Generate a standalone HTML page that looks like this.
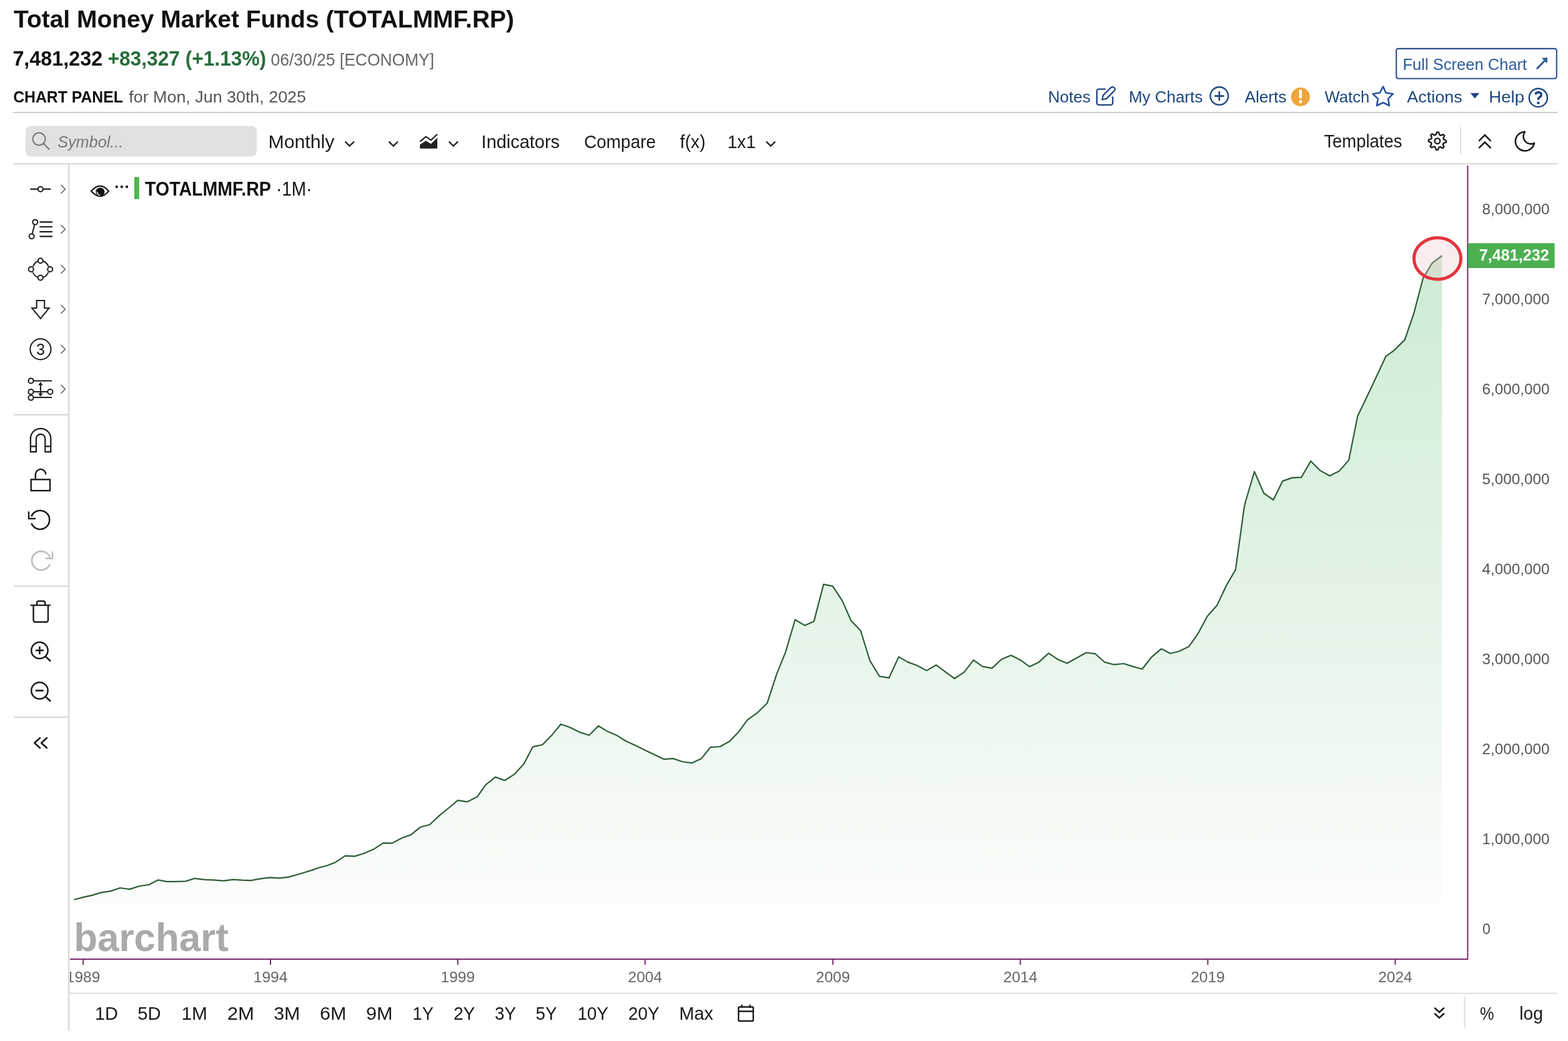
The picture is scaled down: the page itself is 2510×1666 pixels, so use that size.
<!DOCTYPE html>
<html><head><meta charset="utf-8"><title>Total Money Market Funds (TOTALMMF.RP)</title>
<style>html,body{margin:0;padding:0;background:#fff;overflow:hidden}svg{display:block}text{font-family:"Liberation Sans", Arial, sans-serif}</style>
</head><body>
<svg width="2510" height="1666" viewBox="0 0 2510 1666">
<rect width="2510" height="1666" fill="#fff"/>
<text x="22.0" y="43.5" font-size="39.2" font-weight="bold" fill="#111" textLength="801.0" lengthAdjust="spacingAndGlyphs">Total Money Market Funds (TOTALMMF.RP)</text>
<text x="20.4" y="105" font-size="32.8" font-weight="bold" fill="#111" textLength="143.8" lengthAdjust="spacingAndGlyphs">7,481,232</text>
<text x="172.5" y="105" font-size="32.8" font-weight="bold" fill="#296d3c" textLength="253.6" lengthAdjust="spacingAndGlyphs">+83,327 (+1.13%)</text>
<text x="433.6" y="105" font-size="27.2" fill="#666" textLength="261.5" lengthAdjust="spacingAndGlyphs">06/30/25 [ECONOMY]</text>
<text x="21.2" y="164.2" font-size="25.9" font-weight="bold" fill="#111" textLength="175.6" lengthAdjust="spacingAndGlyphs">CHART PANEL</text>
<text x="206.3" y="164.2" font-size="25.9" fill="#555" textLength="283.7" lengthAdjust="spacingAndGlyphs">for Mon, Jun 30th, 2025</text>
<rect x="2235.2" y="77.9" width="256.6" height="47.9" rx="3.2" fill="none" stroke="#2c4f8f" stroke-width="2.1"/>
<text x="2245.5" y="111.6" font-size="25.1" fill="#2d5c9c" textLength="198.7" lengthAdjust="spacingAndGlyphs">Full Screen Chart</text>
<path d="M2460.8 109.4 L2472 98" stroke="#2d5c9c" stroke-width="3" stroke-linecap="round"/>
<path d="M2468.6 93.2 L2476.7 92.8 L2476.3 100.6 Z" fill="#2d5c9c" stroke="#2d5c9c" stroke-width="1" stroke-linejoin="round"/>
<text x="1677.8" y="163.9" font-size="26.2" fill="#1d467f" textLength="68.1" lengthAdjust="spacingAndGlyphs">Notes</text>
<path d="M1768.9 142.7 H1759 a3.2 3.2 0 0 0 -3.2 3.2 V164.7 a3.2 3.2 0 0 0 3.2 3.2 H1778 a3.2 3.2 0 0 0 3.2 -3.2 V155.4" fill="none" stroke="#1d467f" stroke-width="2.3" stroke-linecap="round"/>
<path d="M1764.3 159.5 L1765.9 152.6 L1778.3 140.3 A3.7 3.7 0 0 1 1783.6 145.5 L1771.2 157.9 Z" fill="none" stroke="#1d467f" stroke-width="2.3" stroke-linejoin="round"/>
<text x="1807.0" y="163.9" font-size="26.2" fill="#1d467f" textLength="118.2" lengthAdjust="spacingAndGlyphs">My Charts</text>
<circle cx="1951.8" cy="153.6" r="14.3" fill="none" stroke="#1d467f" stroke-width="2.4"/>
<path d="M1951.8 146 V161.2 M1944.2 153.6 H1959.4" stroke="#1d467f" stroke-width="2.6"/>
<text x="1992.4" y="163.9" font-size="26.2" fill="#1d467f" textLength="67.1" lengthAdjust="spacingAndGlyphs">Alerts</text>
<circle cx="2081.8" cy="155" r="15" fill="#f0a43a"/>
<rect x="2079.6" y="143.5" width="4.4" height="14" rx="1" fill="#fff"/><rect x="2079.6" y="160.5" width="4.4" height="4.4" fill="#fff"/>
<text x="2120.5" y="163.9" font-size="26.2" fill="#1d467f" textLength="71.8" lengthAdjust="spacingAndGlyphs">Watch</text>
<polygon points="2214,138.5 2218.4,148.5 2229.9,150.2 2222,158.1 2224,169 2214,164.3 2203.9,169 2205.9,158.1 2197.6,150.2 2208.8,148.5" fill="none" stroke="#2553a0" stroke-width="2.6" stroke-linejoin="round"/>
<text x="2252.2" y="163.9" font-size="26.2" fill="#1d467f" textLength="88.7" lengthAdjust="spacingAndGlyphs">Actions</text>
<path d="M2353.7 149 H2368.1 L2360.9 157.6 Z" fill="#1d467f"/>
<text x="2383.2" y="163.9" font-size="26.2" fill="#1d467f" textLength="56.9" lengthAdjust="spacingAndGlyphs">Help</text>
<circle cx="2462.4" cy="156.4" r="14.6" fill="none" stroke="#1d467f" stroke-width="2.4"/>
<path d="M2458.3 151.3 C2458.3 148.6 2460.3 147.7 2462.7 147.7 C2465.5 147.7 2467.3 149.3 2467.3 151.8 C2467.3 154.6 2464.6 155.3 2463.2 156.8 C2462.5 157.6 2462.4 158.5 2462.4 159.8" fill="none" stroke="#1d467f" stroke-width="3.6"/>
<rect x="2460.4" y="162.8" width="4.1" height="3.8" fill="#1d467f"/>
<rect x="21" y="179" width="2472" height="2" fill="#cccccc"/>
<rect x="21" y="261.3" width="2472" height="1.7" fill="#d4d4d4"/>
<rect x="40.9" y="201.4" width="370.2" height="49.1" rx="8.5" fill="#e1e1e1"/>
<circle cx="62.5" cy="222.5" r="10" fill="none" stroke="#777" stroke-width="2"/>
<path d="M69.8 229.8 L78.5 238.8" stroke="#777" stroke-width="2.2" stroke-linecap="round"/>
<text x="92.2" y="236.1" font-size="26.6" font-style="italic" fill="#777" textLength="105.1" lengthAdjust="spacingAndGlyphs">Symbol...</text>
<text x="429.5" y="236.9" font-size="29.4" fill="#1a1a1a" textLength="105.8" lengthAdjust="spacingAndGlyphs">Monthly</text>
<path d="M552.4 226.7 L559.6 233.5 L566.8 226.7" fill="none" stroke="#222" stroke-width="2.4"/>
<path d="M622.5 226.7 L629.7 233.5 L636.9 226.7" fill="none" stroke="#222" stroke-width="2.4"/>
<path d="M672.2 226.7 L681.8 218.7 L689.8 224.4 L700 214.7" fill="none" stroke="#222" stroke-width="2.2"/>
<path d="M672.2 231.6 L681.8 225.3 L689.8 230.2 L700 220.4 V237.8 H672.2 Z" fill="#222"/>
<path d="M718.6 226.7 L725.8000000000001 233.5 L733.0 226.7" fill="none" stroke="#222" stroke-width="2.4"/>
<text x="770.6" y="236.8" font-size="29.4" fill="#1a1a1a" textLength="125.4" lengthAdjust="spacingAndGlyphs">Indicators</text>
<text x="934.9" y="236.8" font-size="29.4" fill="#1a1a1a" textLength="114.9" lengthAdjust="spacingAndGlyphs">Compare</text>
<text x="1088.6" y="236.8" font-size="29.4" fill="#1a1a1a" textLength="40.7" lengthAdjust="spacingAndGlyphs">f(x)</text>
<text x="1164.4" y="236.8" font-size="29.4" fill="#1a1a1a" textLength="45.4" lengthAdjust="spacingAndGlyphs">1x1</text>
<path d="M1226.6 226.7 L1233.8 233.5 L1241 226.7" fill="none" stroke="#222" stroke-width="2.4"/>
<text x="2119.4" y="236.4" font-size="29.4" fill="#1a1a1a" textLength="125.0" lengthAdjust="spacingAndGlyphs">Templates</text>
<polygon points="2300.2,211.5 2303.0,211.7 2304.4,215.9 2306.2,216.8 2310.4,215.2 2312.3,217.2 2310.3,221.3 2311.0,223.2 2315.1,225.0 2314.9,227.8 2310.7,229.2 2309.8,231.0 2311.4,235.2 2309.4,237.1 2305.3,235.1 2303.4,235.8 2301.6,239.9 2298.8,239.7 2297.4,235.5 2295.6,234.6 2291.4,236.2 2289.5,234.2 2291.5,230.1 2290.8,228.2 2286.7,226.4 2286.9,223.6 2291.1,222.2 2292.0,220.4 2290.4,216.2 2292.4,214.3 2296.5,216.3 2298.4,215.6" fill="none" stroke="#1a1a1a" stroke-width="2.4" stroke-linejoin="round"/>
<circle cx="2300.9" cy="225.7" r="4.3" fill="none" stroke="#1a1a1a" stroke-width="2.4"/>
<rect x="2337" y="203.4" width="2" height="44" fill="#dddddd"/>
<path d="M2368 225.2 L2376.9 216 L2385.8 225.2 M2368 236.4 L2376.9 227.5 L2385.8 236.4" fill="none" stroke="#1a1a1a" stroke-width="2.6" stroke-linecap="round"/>
<path d="M2441 211 A15.2 15.2 0 1 0 2456 229 A12 12 0 0 1 2441 211 Z" fill="none" stroke="#1a1a1a" stroke-width="2.6" stroke-linejoin="round"/>
<rect x="109.2" y="262" width="2" height="1388" fill="#d4d4d4"/>
<rect x="22" y="662.7" width="88" height="2" fill="#d4d4d4"/>
<rect x="22" y="937.2" width="88" height="2" fill="#d4d4d4"/>
<rect x="22" y="1146.7" width="88" height="2" fill="#d4d4d4"/>
<path d="M48.5 302.7 H60.8 M68.8 302.7 H81.2" stroke="#1a1a1a" stroke-width="2.2"/><circle cx="64.8" cy="302.7" r="4" fill="#fff" stroke="#1a1a1a" stroke-width="2"/>
<path d="M97.5 295.7 L104.3 302.7 L97.5 309.7" fill="none" stroke="#555" stroke-width="1.4"/>
<path d="M55.4 359.4 L51.6 374.2" stroke="#1a1a1a" stroke-width="2"/>
<circle cx="56.3" cy="355.4" r="4" fill="#fff" stroke="#1a1a1a" stroke-width="2"/><circle cx="50.7" cy="378.2" r="4" fill="#fff" stroke="#1a1a1a" stroke-width="2"/>
<path d="M63.4 355.4 H84 M63.4 363 H84 M63.4 370.8 H84 M63.4 378.4 H84" stroke="#1a1a1a" stroke-width="2.2"/>
<path d="M97.5 360 L104.3 367 L97.5 374" fill="none" stroke="#555" stroke-width="1.4"/>
<path d="M53 426.5 Q56 419 61 418 M68.6 418 Q75 419.5 77.5 426.5 M77.5 435.5 Q75 442 68.6 444 M61 444 Q55 442 52.5 435.5" fill="none" stroke="#1a1a1a" stroke-width="2"/>
<circle cx="64.8" cy="417.3" r="4" fill="#fff" stroke="#1a1a1a" stroke-width="2"/>
<circle cx="49.7" cy="431" r="4" fill="#fff" stroke="#1a1a1a" stroke-width="2"/>
<circle cx="80.2" cy="431" r="4" fill="#fff" stroke="#1a1a1a" stroke-width="2"/>
<circle cx="64.8" cy="444.5" r="4" fill="#fff" stroke="#1a1a1a" stroke-width="2"/>
<path d="M97.5 424 L104.3 431 L97.5 438" fill="none" stroke="#555" stroke-width="1.4"/>
<path d="M58.6 481 H71.2 V493 H78.6 L64.9 509.8 L51.1 493 H58.6 Z" fill="none" stroke="#1a1a1a" stroke-width="2" stroke-linejoin="miter"/>
<path d="M97.5 488 L104.3 495 L97.5 502" fill="none" stroke="#555" stroke-width="1.4"/>
<circle cx="64.9" cy="558.9" r="16.6" fill="none" stroke="#1a1a1a" stroke-width="2"/>
<text x="64.9" y="567.6" font-size="25" text-anchor="middle" fill="#1a1a1a">3</text>
<path d="M97.5 551.9 L104.3 558.9 L97.5 565.9" fill="none" stroke="#555" stroke-width="1.4"/>
<path d="M53.5 609.4 H82.9 M53.5 627 H76 M53.5 636 H82.9 M64.9 612 V634" stroke="#1a1a1a" stroke-width="2"/>
<path d="M61 616.5 L64.9 611.5 L68.8 616.5 Z M61 629.5 L64.9 634.5 L68.8 629.5 Z" fill="#1a1a1a"/>
<circle cx="49.5" cy="609.4" r="4" fill="#fff" stroke="#1a1a1a" stroke-width="2"/>
<circle cx="49.5" cy="627" r="4" fill="#fff" stroke="#1a1a1a" stroke-width="2"/>
<circle cx="49.5" cy="636.6" r="4" fill="#fff" stroke="#1a1a1a" stroke-width="2"/>
<circle cx="80.3" cy="627" r="4" fill="#fff" stroke="#1a1a1a" stroke-width="2"/>
<path d="M97.5 615.8 L104.3 622.8 L97.5 629.8" fill="none" stroke="#555" stroke-width="1.4"/>
<path d="M48.9 723.2 V702 A16.2 16.2 0 0 1 81.3 702 V723.2 H72.3 V702 A7.2 7.2 0 0 0 57.9 702 V723.2 Z M48.9 714.4 H57.9 M72.3 714.4 H81.3" fill="none" stroke="#1a1a1a" stroke-width="2.2"/>
<rect x="49.7" y="767.4" width="30.4" height="17.8" fill="none" stroke="#1a1a1a" stroke-width="2.4"/>
<path d="M56.8 767.4 V759 A8.2 8.2 0 0 1 73.2 759.5" fill="none" stroke="#1a1a1a" stroke-width="2.4"/>
<path d="M50.3 837.5 A15 15 0 1 0 50.3 826.5" fill="none" stroke="#1a1a1a" stroke-width="2.6"/>
<path d="M46 818.5 V830 H57" fill="none" stroke="#1a1a1a" stroke-width="2.4"/>
<path d="M80 892 A15 15 0 1 0 79.8 903" fill="none" stroke="#bdbdbd" stroke-width="2.6"/>
<path d="M84 882.5 V893.8 H72.5" fill="none" stroke="#bdbdbd" stroke-width="2.4"/>
<path d="M48.6 968.6 H81.1" stroke="#1a1a1a" stroke-width="2.4"/>
<path d="M58.9 968 V965 A3 3 0 0 1 61.9 962 H69.2 A3 3 0 0 1 72.2 965 V968" fill="none" stroke="#1a1a1a" stroke-width="2.4"/>
<path d="M53.5 969 V992.5 A3 3 0 0 0 56.5 995.5 H74 A3 3 0 0 0 77 992.5 V969" fill="none" stroke="#1a1a1a" stroke-width="2.4"/>
<circle cx="63.4" cy="1040.9" r="13.2" fill="none" stroke="#1a1a1a" stroke-width="2.5"/>
<path d="M73 1050.6000000000001 L80.3 1057.5" stroke="#1a1a1a" stroke-width="2.6" stroke-linecap="round"/>
<path d="M57 1040.9 H69.8 M63.4 1034.5 V1047.3000000000002" stroke="#1a1a1a" stroke-width="2.6"/>
<circle cx="63.4" cy="1105.2" r="13.2" fill="none" stroke="#1a1a1a" stroke-width="2.5"/>
<path d="M73 1114.9 L80.3 1121.8" stroke="#1a1a1a" stroke-width="2.6" stroke-linecap="round"/>
<path d="M57 1105.2 H69.8" stroke="#1a1a1a" stroke-width="2.8"/>
<path d="M64 1181 L55.2 1189 L64 1197 M75 1181 L66.2 1189 L75 1197" fill="none" stroke="#1a1a1a" stroke-width="2.6" stroke-linecap="round" stroke-linejoin="round"/>
<defs><linearGradient id="gf" x1="0" y1="409" x2="0" y2="1487" gradientUnits="userSpaceOnUse"><stop offset="0" stop-color="#cdebd2"/><stop offset="0.55" stop-color="#e6f5e9"/><stop offset="0.93" stop-color="#fafcfa"/><stop offset="1" stop-color="#ffffff"/></linearGradient><clipPath id="pc"><rect x="112" y="265" width="2237" height="1270"/></clipPath></defs>
<path d="M118.6,1439.7 L135.5,1435.4 L147.4,1432.9 L160.9,1428.6 L177.0,1426.1 L192.3,1421.0 L207.5,1423.1 L223.6,1418.0 L238.0,1416.0 L253.2,1408.3 L266.7,1410.9 L281.1,1410.9 L297.2,1410.4 L311.6,1405.8 L328.5,1407.8 L342.0,1408.3 L358.1,1409.7 L373.4,1407.7 L387.8,1408.7 L401.3,1409.2 L416.5,1406.3 L432.6,1404.4 L447.0,1405.3 L462.2,1403.6 L480.9,1398.2 L500.0,1392.4 L510.2,1388.7 L523.7,1385.3 L537.2,1379.9 L552.5,1369.7 L567.7,1370.4 L582.9,1365.8 L598.2,1359.1 L613.4,1349.2 L627.8,1349.4 L643.0,1341.3 L658.3,1335.7 L672.7,1323.8 L687.9,1319.8 L703.1,1305.4 L718.4,1293.0 L732.8,1280.9 L748.0,1283.2 L764.1,1274.9 L777.6,1255.8 L792.9,1243.6 L808.1,1249.0 L823.3,1239.2 L838.6,1222.5 L852.9,1195.2 L868.2,1192.0 L883.4,1176.6 L897.8,1159.0 L912.2,1164.0 L927.4,1171.6 L943.0,1176.7 L957.9,1161.8 L972.3,1170.4 L986.6,1176.4 L1001.9,1186.0 L1017.1,1193.1 L1032.3,1200.4 L1047.6,1207.7 L1062.8,1215.1 L1077.2,1213.9 L1092.4,1219.0 L1107.7,1221.1 L1122.9,1213.9 L1137.3,1195.8 L1152.5,1195.0 L1167.8,1186.5 L1182.2,1171.6 L1196.5,1152.2 L1211.8,1141.2 L1228.1,1125.2 L1243.5,1078.2 L1257.4,1043.8 L1272.8,991.7 L1288.2,1000.9 L1302.9,994.6 L1318.3,935.2 L1333.0,938.1 L1348.4,961.6 L1362.3,993.2 L1377.7,1009.3 L1392.4,1057.0 L1407.8,1082.4 L1423.2,1084.8 L1438.6,1051.1 L1453.3,1059.6 L1467.9,1065.0 L1483.3,1073.1 L1498.7,1064.3 L1527.9,1086.0 L1543.2,1075.9 L1558.4,1056.4 L1572.8,1066.6 L1588.0,1069.4 L1603.3,1055.0 L1618.5,1048.8 L1632.9,1055.9 L1648.1,1066.9 L1662.5,1060.1 L1678.6,1045.4 L1693.0,1055.2 L1708.2,1061.5 L1723.4,1053.0 L1738.7,1044.5 L1753.1,1046.2 L1768.3,1059.8 L1783.5,1063.7 L1798.8,1062.0 L1813.2,1066.6 L1828.4,1070.8 L1843.6,1051.3 L1858.9,1038.3 L1873.3,1045.7 L1887.6,1042.3 L1903.2,1034.7 L1917.9,1013.7 L1932.6,986.3 L1948.4,968.4 L1963.2,936.8 L1977.9,911.6 L1991.6,812.6 L1993.7,803.2 L2008.0,754.7 L2023.2,789.5 L2038.3,800.0 L2053.1,769.9 L2068.4,764.6 L2083.2,763.8 L2098.3,737.9 L2112.6,752.6 L2128.4,761.5 L2143.6,754.1 L2159.1,736.4 L2173.2,666.1 L2191.8,627.3 L2218.5,570.3 L2231.8,560.6 L2248.8,543.6 L2263.3,501.2 L2277.9,445.5 L2292.4,421.2 L2308.2,409.1 L2308.2,1487 L118.6,1487 Z" fill="url(#gf)"/>
<text x="118.2" y="1521.6" font-size="63.5" font-weight="bold" fill="#aaaaaa" textLength="247.6" lengthAdjust="spacingAndGlyphs">barchart</text>
<path d="M118.6,1439.7 L135.5,1435.4 L147.4,1432.9 L160.9,1428.6 L177.0,1426.1 L192.3,1421.0 L207.5,1423.1 L223.6,1418.0 L238.0,1416.0 L253.2,1408.3 L266.7,1410.9 L281.1,1410.9 L297.2,1410.4 L311.6,1405.8 L328.5,1407.8 L342.0,1408.3 L358.1,1409.7 L373.4,1407.7 L387.8,1408.7 L401.3,1409.2 L416.5,1406.3 L432.6,1404.4 L447.0,1405.3 L462.2,1403.6 L480.9,1398.2 L500.0,1392.4 L510.2,1388.7 L523.7,1385.3 L537.2,1379.9 L552.5,1369.7 L567.7,1370.4 L582.9,1365.8 L598.2,1359.1 L613.4,1349.2 L627.8,1349.4 L643.0,1341.3 L658.3,1335.7 L672.7,1323.8 L687.9,1319.8 L703.1,1305.4 L718.4,1293.0 L732.8,1280.9 L748.0,1283.2 L764.1,1274.9 L777.6,1255.8 L792.9,1243.6 L808.1,1249.0 L823.3,1239.2 L838.6,1222.5 L852.9,1195.2 L868.2,1192.0 L883.4,1176.6 L897.8,1159.0 L912.2,1164.0 L927.4,1171.6 L943.0,1176.7 L957.9,1161.8 L972.3,1170.4 L986.6,1176.4 L1001.9,1186.0 L1017.1,1193.1 L1032.3,1200.4 L1047.6,1207.7 L1062.8,1215.1 L1077.2,1213.9 L1092.4,1219.0 L1107.7,1221.1 L1122.9,1213.9 L1137.3,1195.8 L1152.5,1195.0 L1167.8,1186.5 L1182.2,1171.6 L1196.5,1152.2 L1211.8,1141.2 L1228.1,1125.2 L1243.5,1078.2 L1257.4,1043.8 L1272.8,991.7 L1288.2,1000.9 L1302.9,994.6 L1318.3,935.2 L1333.0,938.1 L1348.4,961.6 L1362.3,993.2 L1377.7,1009.3 L1392.4,1057.0 L1407.8,1082.4 L1423.2,1084.8 L1438.6,1051.1 L1453.3,1059.6 L1467.9,1065.0 L1483.3,1073.1 L1498.7,1064.3 L1527.9,1086.0 L1543.2,1075.9 L1558.4,1056.4 L1572.8,1066.6 L1588.0,1069.4 L1603.3,1055.0 L1618.5,1048.8 L1632.9,1055.9 L1648.1,1066.9 L1662.5,1060.1 L1678.6,1045.4 L1693.0,1055.2 L1708.2,1061.5 L1723.4,1053.0 L1738.7,1044.5 L1753.1,1046.2 L1768.3,1059.8 L1783.5,1063.7 L1798.8,1062.0 L1813.2,1066.6 L1828.4,1070.8 L1843.6,1051.3 L1858.9,1038.3 L1873.3,1045.7 L1887.6,1042.3 L1903.2,1034.7 L1917.9,1013.7 L1932.6,986.3 L1948.4,968.4 L1963.2,936.8 L1977.9,911.6 L1991.6,812.6 L1993.7,803.2 L2008.0,754.7 L2023.2,789.5 L2038.3,800.0 L2053.1,769.9 L2068.4,764.6 L2083.2,763.8 L2098.3,737.9 L2112.6,752.6 L2128.4,761.5 L2143.6,754.1 L2159.1,736.4 L2173.2,666.1 L2191.8,627.3 L2218.5,570.3 L2231.8,560.6 L2248.8,543.6 L2263.3,501.2 L2277.9,445.5 L2292.4,421.2 L2308.2,409.1" fill="none" stroke="#2c5b35" stroke-width="2.2" stroke-linejoin="round"/>
<ellipse cx="2301" cy="413.8" rx="37.6" ry="33.2" fill="rgba(236,195,200,0.3)" stroke="#e2343f" stroke-width="5"/>
<rect x="2348.4" y="265" width="2" height="1271" fill="#772a6e"/>
<rect x="112" y="1534" width="2238" height="2" fill="#772a6e"/>
<rect x="132.1" y="1535" width="2" height="9" fill="#772a6e"/>
<rect x="432" y="1535" width="2" height="9" fill="#772a6e"/>
<rect x="731.8" y="1535" width="2" height="9" fill="#772a6e"/>
<rect x="1031.6" y="1535" width="2" height="9" fill="#772a6e"/>
<rect x="1332.3" y="1535" width="2" height="9" fill="#772a6e"/>
<rect x="1632.3" y="1535" width="2" height="9" fill="#772a6e"/>
<rect x="1932.4" y="1535" width="2" height="9" fill="#772a6e"/>
<rect x="2232.4" y="1535" width="2" height="9" fill="#772a6e"/>
<clipPath id="xc"><rect x="112" y="1540" width="2240" height="45"/></clipPath>
<g clip-path="url(#xc)">
<text x="133.1" y="1571.6" font-size="24" text-anchor="middle" fill="#666" textLength="54.5" lengthAdjust="spacingAndGlyphs">1989</text>
<text x="433" y="1571.6" font-size="24" text-anchor="middle" fill="#666" textLength="54.5" lengthAdjust="spacingAndGlyphs">1994</text>
<text x="732.8" y="1571.6" font-size="24" text-anchor="middle" fill="#666" textLength="54.5" lengthAdjust="spacingAndGlyphs">1999</text>
<text x="1032.6" y="1571.6" font-size="24" text-anchor="middle" fill="#666" textLength="54.5" lengthAdjust="spacingAndGlyphs">2004</text>
<text x="1333.3" y="1571.6" font-size="24" text-anchor="middle" fill="#666" textLength="54.5" lengthAdjust="spacingAndGlyphs">2009</text>
<text x="1633.3" y="1571.6" font-size="24" text-anchor="middle" fill="#666" textLength="54.5" lengthAdjust="spacingAndGlyphs">2014</text>
<text x="1933.4" y="1571.6" font-size="24" text-anchor="middle" fill="#666" textLength="54.5" lengthAdjust="spacingAndGlyphs">2019</text>
<text x="2233.4" y="1571.6" font-size="24" text-anchor="middle" fill="#666" textLength="54.5" lengthAdjust="spacingAndGlyphs">2024</text>
</g>
<text x="2372.4" y="342.7" font-size="23.2" fill="#555" textLength="108.2" lengthAdjust="spacingAndGlyphs">8,000,000</text>
<text x="2372.4" y="486.7" font-size="23.2" fill="#555" textLength="108.2" lengthAdjust="spacingAndGlyphs">7,000,000</text>
<text x="2372.4" y="630.7" font-size="23.2" fill="#555" textLength="108.2" lengthAdjust="spacingAndGlyphs">6,000,000</text>
<text x="2372.4" y="774.7" font-size="23.2" fill="#555" textLength="108.2" lengthAdjust="spacingAndGlyphs">5,000,000</text>
<text x="2372.4" y="918.7" font-size="23.2" fill="#555" textLength="108.2" lengthAdjust="spacingAndGlyphs">4,000,000</text>
<text x="2372.4" y="1062.7" font-size="23.2" fill="#555" textLength="108.2" lengthAdjust="spacingAndGlyphs">3,000,000</text>
<text x="2372.4" y="1206.7" font-size="23.2" fill="#555" textLength="108.2" lengthAdjust="spacingAndGlyphs">2,000,000</text>
<text x="2372.4" y="1350.7" font-size="23.2" fill="#555" textLength="108.2" lengthAdjust="spacingAndGlyphs">1,000,000</text>
<text x="2373" y="1494.7" font-size="23.2" fill="#555">0</text>
<rect x="2350" y="389.2" width="138.6" height="39.8" fill="#4cb050"/>
<text x="2479.8" y="416.5" font-size="25.0" font-weight="bold" text-anchor="end" fill="#ffffff" textLength="112" lengthAdjust="spacingAndGlyphs">7,481,232</text>
<path d="M146 305.8 Q160.4 289.4 174 305.8 Q160.4 322.4 146 305.8 Z" fill="none" stroke="#111" stroke-width="2.1" stroke-linejoin="round"/>
<circle cx="160.4" cy="307.3" r="7" fill="#111"/>
<path d="M155.6 306.8 A5.2 5.2 0 0 0 160.2 312.6" fill="none" stroke="#fff" stroke-width="1.5"/>
<circle cx="186.8" cy="298.9" r="2.1" fill="#111"/><circle cx="194.9" cy="298.9" r="2.1" fill="#111"/><circle cx="203.1" cy="298.9" r="2.1" fill="#111"/>
<rect x="215" y="283.3" width="7.8" height="35.4" fill="#4cb84c"/>
<text x="232.1" y="312.6" font-size="31.4" font-weight="bold" fill="#111" textLength="201.8" lengthAdjust="spacingAndGlyphs">TOTALMMF.RP</text>
<text x="442" y="312.6" font-size="31.4" fill="#111" textLength="57.4" lengthAdjust="spacingAndGlyphs">·1M·</text>
<rect x="110" y="1588.7" width="2383" height="2" fill="#dcdcdc"/>
<rect x="2343.5" y="1595" width="2" height="51" fill="#e0e0e0"/>
<text x="151.9" y="1631.9" font-size="30.1" fill="#1a1a1a" textLength="36.9" lengthAdjust="spacingAndGlyphs">1D</text>
<text x="220.2" y="1631.9" font-size="30.1" fill="#1a1a1a" textLength="37.3" lengthAdjust="spacingAndGlyphs">5D</text>
<text x="290.5" y="1631.9" font-size="30.1" fill="#1a1a1a" textLength="41.5" lengthAdjust="spacingAndGlyphs">1M</text>
<text x="363.7" y="1631.9" font-size="30.1" fill="#1a1a1a" textLength="43.1" lengthAdjust="spacingAndGlyphs">2M</text>
<text x="438.2" y="1631.9" font-size="30.1" fill="#1a1a1a" textLength="42.1" lengthAdjust="spacingAndGlyphs">3M</text>
<text x="512.0" y="1631.9" font-size="30.1" fill="#1a1a1a" textLength="42.3" lengthAdjust="spacingAndGlyphs">6M</text>
<text x="586.0" y="1631.9" font-size="30.1" fill="#1a1a1a" textLength="42.6" lengthAdjust="spacingAndGlyphs">9M</text>
<text x="660.5" y="1631.9" font-size="30.1" fill="#1a1a1a" textLength="33.5" lengthAdjust="spacingAndGlyphs">1Y</text>
<text x="725.9" y="1631.9" font-size="30.1" fill="#1a1a1a" textLength="34.6" lengthAdjust="spacingAndGlyphs">2Y</text>
<text x="792.0" y="1631.9" font-size="30.1" fill="#1a1a1a" textLength="34.0" lengthAdjust="spacingAndGlyphs">3Y</text>
<text x="857.5" y="1631.9" font-size="30.1" fill="#1a1a1a" textLength="33.9" lengthAdjust="spacingAndGlyphs">5Y</text>
<text x="924.4" y="1631.9" font-size="30.1" fill="#1a1a1a" textLength="49.5" lengthAdjust="spacingAndGlyphs">10Y</text>
<text x="1005.8" y="1631.9" font-size="30.1" fill="#1a1a1a" textLength="49.6" lengthAdjust="spacingAndGlyphs">20Y</text>
<text x="1087.3" y="1631.9" font-size="30.1" fill="#1a1a1a" textLength="54.4" lengthAdjust="spacingAndGlyphs">Max</text>
<rect x="1182.2" y="1611.5" width="23.6" height="22.5" rx="1.5" fill="none" stroke="#1a1a1a" stroke-width="2.4"/>
<path d="M1182.2 1618.5 H1205.8 M1187.5 1607.8 V1613 M1200.5 1607.8 V1613" stroke="#1a1a1a" stroke-width="2.4"/>
<path d="M2297 1613.5 L2304 1620 L2311 1613.5 M2297 1622.5 L2304 1629 L2311 1622.5" fill="none" stroke="#1a1a1a" stroke-width="2.6" stroke-linecap="round"/>
<text x="2369.0" y="1631.9" font-size="30.1" fill="#1a1a1a" textLength="22.6" lengthAdjust="spacingAndGlyphs">%</text>
<text x="2432.2" y="1631.9" font-size="30.1" fill="#1a1a1a" textLength="37.9" lengthAdjust="spacingAndGlyphs">log</text>
</svg>
</body></html>
